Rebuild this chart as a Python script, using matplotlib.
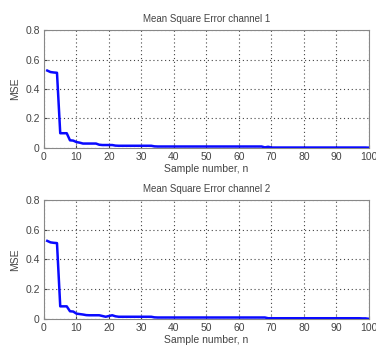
import matplotlib
matplotlib.use("Agg")
import matplotlib.pyplot as plt
import numpy as np

plt.rcParams["font.family"] = ["Liberation Sans", "DejaVu Sans"]

n = np.arange(1, 101)

mse_ch1 = [
    0.525, 0.515, 0.512, 0.510, 0.100, 0.100, 0.100, 0.052, 0.050, 0.040,
    0.036, 0.030, 0.030, 0.030, 0.030, 0.030, 0.022, 0.020, 0.020, 0.020,
    0.020, 0.016, 0.015, 0.015, 0.015, 0.015, 0.015, 0.015, 0.015, 0.015,
    0.015, 0.015, 0.015, 0.011, 0.010, 0.010, 0.010, 0.010, 0.010, 0.010,
    0.010, 0.010, 0.010, 0.010, 0.010, 0.010, 0.010, 0.010, 0.010, 0.010,
    0.010, 0.010, 0.010, 0.010, 0.010, 0.010, 0.010, 0.010, 0.010, 0.010,
    0.010, 0.010, 0.010, 0.010, 0.010, 0.010, 0.010, 0.004, 0.008, 0.003,
    0.003, 0.003, 0.003, 0.003, 0.003, 0.003, 0.003, 0.003, 0.003, 0.003,
    0.003, 0.003, 0.003, 0.003, 0.003, 0.003, 0.003, 0.003, 0.003, 0.003,
    0.003, 0.003, 0.003, 0.003, 0.003, 0.003, 0.003, 0.003, 0.003, 0.002,
]

mse_ch2 = [
    0.525, 0.515, 0.512, 0.510, 0.085, 0.085, 0.085, 0.052, 0.050, 0.036,
    0.033, 0.030, 0.026, 0.025, 0.025, 0.025, 0.025, 0.020, 0.015, 0.020,
    0.025, 0.018, 0.015, 0.015, 0.015, 0.015, 0.015, 0.015, 0.015, 0.015,
    0.015, 0.015, 0.015, 0.011, 0.010, 0.010, 0.010, 0.010, 0.010, 0.010,
    0.010, 0.010, 0.010, 0.010, 0.010, 0.010, 0.010, 0.010, 0.010, 0.010,
    0.010, 0.010, 0.010, 0.010, 0.010, 0.010, 0.010, 0.010, 0.010, 0.010,
    0.010, 0.010, 0.010, 0.010, 0.010, 0.010, 0.010, 0.010, 0.005, 0.005,
    0.005, 0.005, 0.005, 0.005, 0.005, 0.005, 0.005, 0.005, 0.005, 0.005,
    0.005, 0.005, 0.005, 0.005, 0.005, 0.005, 0.005, 0.005, 0.005, 0.005,
    0.005, 0.005, 0.005, 0.005, 0.005, 0.005, 0.005, 0.004, 0.004, 0.001,
]

titles = ["Mean Square Error channel 1", "Mean Square Error channel 2"]
x_ticks = [0, 10, 20, 30, 40, 50, 60, 70, 80, 90, 100]
y_ticks = [0, 0.2, 0.4, 0.6, 0.8]
y_labels = ["0", "0.2", "0.4", "0.6", "0.8"]

fig = plt.figure(figsize=(3.76, 3.49), dpi=100)
positions = [[0.117, 0.576, 0.864, 0.338], [0.117, 0.086, 0.864, 0.341]]
text_col = "#444444"

for pos, data, title in zip(positions, [mse_ch1, mse_ch2], titles):
    ax = fig.add_axes(pos)
    ax.plot(n, data, color="#0a0aff", linewidth=1.8, zorder=3)
    ax.set_xlim(0, 100)
    ax.set_ylim(0, 0.8)
    ax.set_xticks(x_ticks)
    ax.set_yticks(y_ticks)
    ax.set_yticklabels(y_labels)
    ax.grid(True, linestyle=(0, (1, 2.5)), color="#444444", linewidth=0.8)
    ax.tick_params(direction="in", length=2, labelsize=7.5, colors=text_col,
                   pad=3)
    for s in ax.spines.values():
        s.set_color("#888888")
        s.set_linewidth(0.8)
    ax.set_title(title, fontsize=7, color=text_col, pad=6)
    ax.set_xlabel("Sample number, n", fontsize=7.5, color=text_col, labelpad=1)
    ax.set_ylabel("MSE", fontsize=7.5, color=text_col, labelpad=4)

fig.savefig("out.png", dpi=100)
